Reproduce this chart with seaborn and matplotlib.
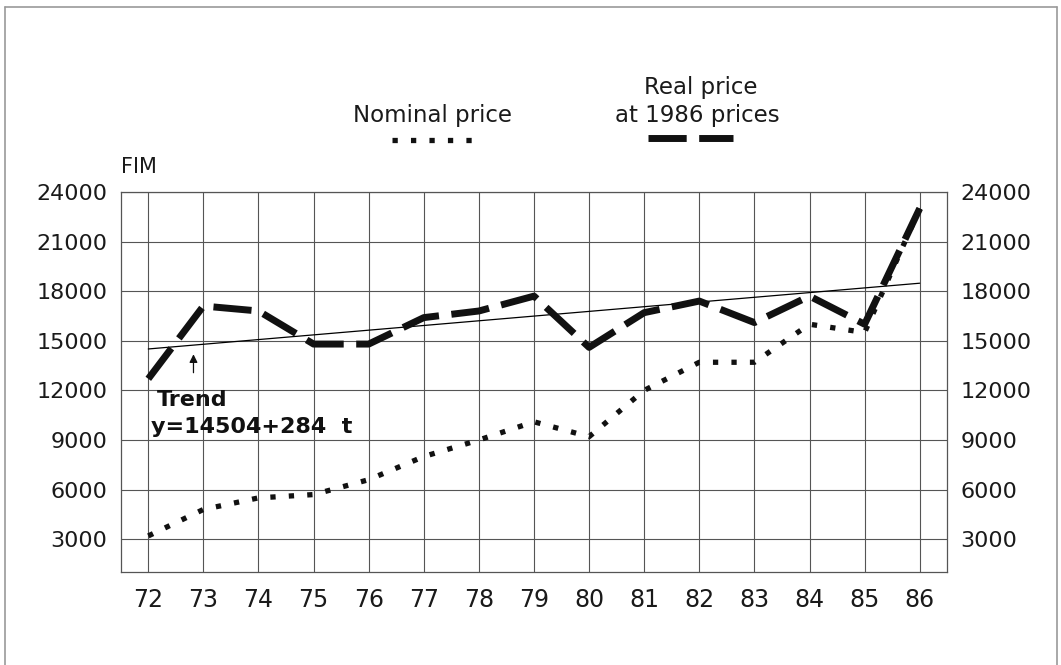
import matplotlib
matplotlib.use("Agg")
import matplotlib.pyplot as plt
from matplotlib.lines import Line2D
import seaborn as sns
import pandas as pd

# values (FIM)
years = [72, 73, 74, 75, 76, 77, 78, 79, 80, 81, 82, 83, 84, 85, 86]
nominal_price = [3200, 4800, 5500, 5700, 6600, 8000, 9000, 10100, 9200, 12000,
                 13700, 13700, 16000, 15500, 23000]
real_price = [12700, 17100, 16800, 14800, 14800, 16400, 16800, 17700, 14600, 16700,
              17400, 16100, 17700, 16000, 23000]
trend_intercept = 14504
trend_slope = 284
y_ticks = [3000, 6000, 9000, 12000, 15000, 18000, 21000, 24000]

df = pd.DataFrame({"year": years, "nominal": nominal_price, "real": real_price})
trend_df = pd.DataFrame({"year": [years[0], years[-1]]})
trend_df["trend"] = trend_intercept + trend_slope * (trend_df["year"] - years[0])

sns.set_style("white")
plt.rcParams["font.family"] = ["DejaVu Sans"]

fig = plt.figure(figsize=(10.61, 6.65), dpi=100)
ax = fig.add_axes([0.1138, 0.1394, 0.7790, 0.5720])

grid_col = "#555555"
dot_style = (0, (1, 2.5))
dash_style = (0, (5.5, 1.8))

sns.lineplot(data=trend_df, x="year", y="trend", ax=ax, color="black", lw=0.9, zorder=3)
sns.lineplot(data=df, x="year", y="nominal", ax=ax, color="#111111", lw=3.8,
             linestyle=dot_style, dash_capstyle="butt", zorder=4)
sns.lineplot(data=df, x="year", y="real", ax=ax, color="#111111", lw=5,
             linestyle=dash_style, dash_capstyle="butt", zorder=5)

ax.set_xlim(71.5, 86.5)
ax.set_ylim(1000, 24000)
ax.set_xticks(years)
ax.set_xticklabels([str(y) for y in years])
ax.set_yticks(y_ticks)
ax.set_yticklabels([str(v) for v in y_ticks])
ax.grid(True, color=grid_col, lw=0.8)
ax.set_axisbelow(True)
for s in ax.spines.values():
    s.set_visible(True)
    s.set_color(grid_col)
    s.set_linewidth(0.9)
ax.set_xlabel("")
ax.set_ylabel("")
ax.tick_params(axis="y", left=False, right=False, labelleft=True, labelright=True,
               labelsize=16, pad=6, colors="#1a1a1a")
ax.tick_params(axis="x", bottom=False, labelsize=17, pad=8, colors="#1a1a1a")

ax.text(0, 1.038, "FIM", transform=ax.transAxes, fontsize=15, color="#1a1a1a",
        ha="left", va="bottom")

# trend annotation
ax.text(72.16, 11430, "Trend", fontsize=16, fontweight="bold", color="#111111",
        ha="left", va="center")
ax.text(72.05, 9810, "y=14504+284  t", fontsize=16, fontweight="bold", color="#111111",
        ha="left", va="center")
ax.annotate("", xy=(72.82, 14350), xytext=(72.82, 12900),
            arrowprops=dict(arrowstyle="-|>", color="#111111", lw=0.9, mutation_scale=12))

# legend drawn above the plot
fig.text(0.408, 0.827, "Nominal price", fontsize=16.5, color="#1a1a1a", ha="center", va="center")
fig.text(0.660, 0.8677, "Real price", fontsize=16.5, color="#1a1a1a", ha="center", va="center")
fig.text(0.657, 0.827, "at 1986 prices", fontsize=16.5, color="#1a1a1a", ha="center", va="center")
fig.add_artist(Line2D([0.3690, 0.4460], [0.7895, 0.7895], transform=fig.transFigure,
                      color="#111111", lw=3.8, linestyle=dot_style, dash_capstyle="butt"))
fig.add_artist(Line2D([0.6108, 0.6908], [0.7930, 0.7930], transform=fig.transFigure,
                      color="#111111", lw=5, linestyle=dash_style, dash_capstyle="butt"))

# page frame
frame_col = "#9a9a9a"
fig.add_artist(Line2D([0.005, 0.996], [0.990, 0.990], transform=fig.transFigure, color=frame_col, lw=1.2))
fig.add_artist(Line2D([0.005, 0.005], [0.0, 0.990], transform=fig.transFigure, color=frame_col, lw=1.2))
fig.add_artist(Line2D([0.996, 0.996], [0.0, 0.990], transform=fig.transFigure, color=frame_col, lw=1.2))

fig.savefig("out.png", dpi=100)
